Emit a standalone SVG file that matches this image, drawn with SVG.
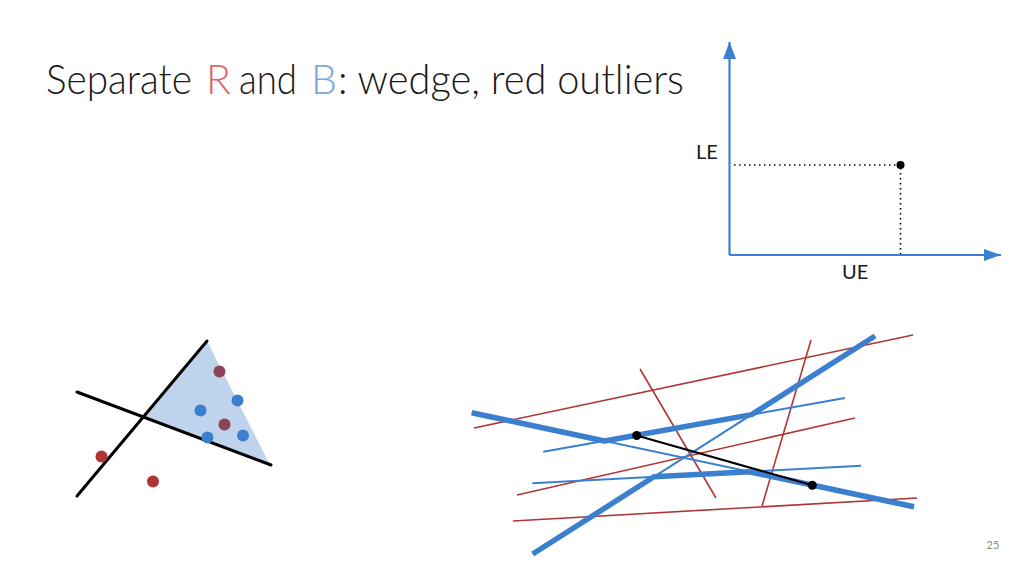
<svg xmlns="http://www.w3.org/2000/svg" width="1024" height="576" viewBox="0 0 1024 576">
<style>
.ttl{font-family:Lato,"Open Sans","Liberation Sans",sans-serif;font-weight:300;font-size:41px;fill:#1a1a1a}
.lbl{font-family:Lato,"Open Sans","Liberation Sans",sans-serif;font-size:20px;fill:#1a1a1a}
.blk{stroke:#000;stroke-width:3;fill:none;stroke-linecap:round}
.red{stroke:#b03535;stroke-width:1.6;fill:none}
.bthin{stroke:#3b7fcf;stroke-width:2;fill:none}
.bthick{stroke:#3b7fcf;stroke-width:5.5;fill:none;stroke-linejoin:round}
.axis{stroke:#3b7fcf;stroke-width:2.2;fill:none}
.dot{stroke:#000;stroke-width:1.6;stroke-dasharray:1.5 3.5;fill:none}
</style>
<rect width="1024" height="576" fill="#fff"/>
<g id="title">
<text class="ttl" x="46" y="93.5" textLength="146" lengthAdjust="spacingAndGlyphs">Separate</text>
<text class="ttl" x="206" y="93.5" fill="#e06666" style="fill:#e06666">R</text>
<text class="ttl" x="239" y="93.5" textLength="58" lengthAdjust="spacingAndGlyphs">and</text>
<text class="ttl" x="311" y="93.5" style="fill:#7ba6e3">B</text>
<text class="ttl" x="338" y="93.5" textLength="346" lengthAdjust="spacingAndGlyphs">: wedge, red outliers</text>
</g>
<g id="axes-plot">
<line class="axis" x1="729.5" y1="255" x2="729.5" y2="42"/>
<path d="M729.5,42 L723,59 L736,59 z" fill="#3b7fcf"/>
<line class="axis" x1="729.5" y1="255" x2="1001" y2="255"/>
<path d="M1001,255 L984,249 L984,261 z" fill="#3b7fcf"/>
<line class="dot" x1="734" y1="165" x2="898" y2="165"/>
<line class="dot" x1="900.5" y1="168" x2="900.5" y2="254"/>
<circle cx="900.5" cy="165" r="4" fill="#000"/>
<text class="lbl" x="696" y="159">LE</text>
<text class="lbl" x="842" y="279">UE</text>
</g>
<g id="wedge">
<polygon points="145,417 207,341 269,463" fill="#bfd4ec"/>
<line class="blk" x1="77" y1="496" x2="207" y2="341"/>
<line class="blk" x1="77" y1="392" x2="271" y2="465"/>
<circle cx="219.5" cy="371.5" r="6" fill="#8c4356"/>
<circle cx="237.5" cy="400.5" r="6" fill="#3b7fcf"/>
<circle cx="200.5" cy="410.5" r="6" fill="#3b7fcf"/>
<circle cx="224.5" cy="424.5" r="6" fill="#8c4356"/>
<circle cx="207.5" cy="437.5" r="6" fill="#3b7fcf"/>
<circle cx="243" cy="435.5" r="6" fill="#3b7fcf"/>
<circle cx="101.5" cy="456.5" r="6" fill="#b03535"/>
<circle cx="153" cy="481.5" r="6" fill="#b03535"/>
</g>
<g id="arrangement">
<line class="red" x1="474" y1="428" x2="913" y2="335"/>
<line class="red" x1="640" y1="369" x2="716" y2="498"/>
<line class="red" x1="811" y1="340" x2="762" y2="506"/>
<line class="red" x1="517" y1="495" x2="855" y2="418"/>
<line class="red" x1="513" y1="521" x2="917" y2="498"/>
<line class="bthin" x1="471.7" y1="412.7" x2="914" y2="506.7"/>
<line class="bthin" x1="532.7" y1="554" x2="875" y2="336"/>
<line class="bthin" x1="543.3" y1="451.7" x2="845" y2="398"/>
<line class="bthin" x1="532.3" y1="483.3" x2="861" y2="465.7"/>
<polyline class="bthick" points="471.7,412.7 604.5,441 751.6,414.6 875,336"/>
<polyline class="bthick" points="532.7,554 653.9,476.8 749.2,471.7 914,506.7"/>
<line x1="636.7" y1="435.5" x2="812.3" y2="485.3" stroke="#000" stroke-width="2"/>
<circle cx="636.7" cy="435.5" r="4.5" fill="#000"/>
<circle cx="812.3" cy="485.3" r="4.5" fill="#000"/>
</g>
<g id="page">
<text x="993" y="549" font-family="Lato,'Liberation Sans',sans-serif" font-size="11" fill="#8a8a8a" text-anchor="middle">25</text>
</g>
</svg>
